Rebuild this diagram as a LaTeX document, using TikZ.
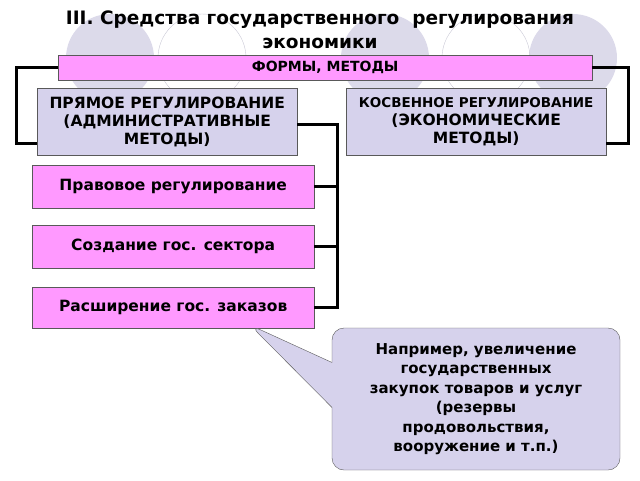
\documentclass[tikz,border=0pt]{standalone}
\usepackage{fontspec}
\setmainfont{DejaVu Sans}
\usetikzlibrary{shapes.callouts}
\definecolor{pinkbox}{HTML}{FF99FF}
\definecolor{lavbox}{HTML}{D6D2EC}
\definecolor{circfill}{HTML}{DCDAEA}
\tikzstyle{pinkform} = [
    draw=gray!70!black,
    fill=pinkbox,
    font=\bfseries,
    rectangle,
    anchor=north west,
    inner sep=0pt
    ]
\tikzstyle{lavform} = [
    draw=gray!70!black,
    fill=lavbox,
    font=\bfseries,
    rectangle,
    anchor=north west,
    inner sep=0pt,
    align=center
    ]
\tikzstyle{link} = [line width=3pt]
\begin{document}
\begin{tikzpicture}[x=1pt,y=-1pt]
\useasboundingbox (0,0) rectangle (640,480);
% background circles
\foreach \cx in {110,385,573}
    \fill[circfill] (\cx,58) circle (44);
\foreach \cx in {202,486}
    \draw[circfill!80!gray] (\cx,58) circle (44);
% title
\node[font=\bfseries\fontsize{18.5}{24}\selectfont, align=center] (title) at (320,30)
    {III. Средства государственного\ \ регулирования\\экономики};
% top box
\node[pinkform, minimum width=534, minimum height=25, font=\bfseries\fontsize{14}{16}\selectfont] (forms) at (58,55) {ФОРМЫ, МЕТОДЫ};
% the two kinds
\node[lavform, minimum width=260, minimum height=67, font=\bfseries\fontsize{15.5}{18}\selectfont] (direct) at (37,88)
    {ПРЯМОЕ РЕГУЛИРОВАНИЕ\\(АДМИНИСТРАТИВНЫЕ\\МЕТОДЫ)};
\node[lavform, minimum width=260, minimum height=67, font=\bfseries\fontsize{15.5}{18}\selectfont] (indirect) at (346,88)
    {\fontsize{13.5}{18}\selectfont КОСВЕННОЕ РЕГУЛИРОВАНИЕ\\(ЭКОНОМИЧЕСКИЕ\\МЕТОДЫ)};
% forms of direct regulation
\node[pinkform, minimum width=282, minimum height=43, font=\bfseries\fontsize{15.5}{18}\selectfont] (law) at (32,165) {Правовое регулирование};
\node[pinkform, minimum width=282, minimum height=43, font=\bfseries\fontsize{15.5}{18}\selectfont] (sector) at (32,225) {Создание гос. сектора};
\node[pinkform, minimum width=282, minimum height=41, font=\bfseries\fontsize{15.5}{18}\selectfont] (orders) at (32,287) {Расширение гос. заказов};
% connectors
\coordinate (lcorner) at (16,143);
\coordinate (rcorner) at (628,143);
\coordinate (trunk) at (337,124);
\draw[link] (forms.west) -| (lcorner) -- (lcorner -| direct.west);
\draw[link] (forms.east) -| (rcorner) -- (rcorner -| indirect.east);
\draw[link] (trunk -| direct.east) -- (trunk) |- (orders.east);
\draw[link] (trunk |- law.east) -- (law.east);
\draw[link] (trunk |- sector.east) -- (sector.east);
% callout
\node[rectangle callout, draw=gray!70!black, fill=lavbox, rounded corners=12pt,
    minimum width=288, minimum height=142, align=center,
    callout pointer width=45,
    font=\bfseries\fontsize{15}{19.5}\selectfont,
    callout absolute pointer={(250,325)}] (note) at (476,399)
    {Например, увеличение\\государственных\\закупок товаров и услуг\\(резервы\\продовольствия,\\вооружение и т.п.)};
\end{tikzpicture}
\end{document}
